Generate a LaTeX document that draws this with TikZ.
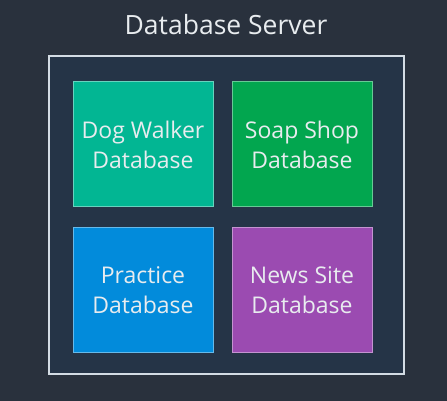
\documentclass[tikz,border=0pt]{standalone}
\usepackage{fontspec}
\setmainfont{Open Sans}
\definecolor{bgc}{HTML}{29313D}
\definecolor{innerc}{HTML}{253447}
\definecolor{framec}{HTML}{D3DCE4}
\definecolor{tealc}{HTML}{02B693}
\definecolor{greenc}{HTML}{02A64F}
\definecolor{bluec}{HTML}{028BDB}
\definecolor{purplec}{HTML}{9B4BB1}
\definecolor{txtc}{HTML}{E8ECEF}
\begin{document}
\begin{tikzpicture}[x=1pt,y=1pt,
  dbbox/.style={draw=#1!60!white, line width=1pt, fill=#1, minimum width=140pt, minimum height=125pt, inner sep=0pt, text=txtc, align=center, font=\fontsize{23}{30}\selectfont},
  ]
  \useasboundingbox[fill=bgc] (0,0) rectangle (447,401);
  \node[draw=framec, line width=2pt, fill=innerc, minimum width=355pt, minimum height=318pt, inner sep=0pt] (server) at (226,185.5) {};
  \node[text=txtc, font=\fontsize{26.5}{30}\selectfont, anchor=base] (ttl) at (226,366) {Database Server};
  \node[dbbox=tealc] (dog) at (143,256.5) {Dog Walker\\Database};
  \node[dbbox=greenc] (soap) at (302,256.5) {Soap Shop\\Database};
  \node[dbbox=bluec] (prac) at (143,110.5) {Practice\\Database};
  \node[dbbox=purplec] (news) at (302,110.5) {News Site\\Database};
\end{tikzpicture}
\end{document}
